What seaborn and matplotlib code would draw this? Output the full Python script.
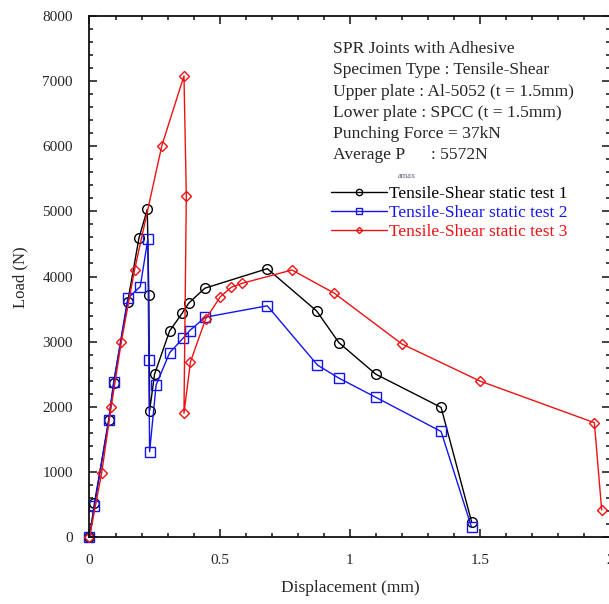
import matplotlib
matplotlib.use("Agg")
import matplotlib.pyplot as plt
import seaborn as sns
import pandas as pd
from matplotlib.lines import Line2D
from matplotlib.ticker import MultipleLocator

# ---- data ----
t1_x = [0, 0.019, 0.074, 0.093, 0.147, 0.190, 0.222, 0.228, 0.231, 0.250, 0.308,
        0.356, 0.381, 0.443, 0.683, 0.873, 0.958, 1.100, 1.351, 1.468]
t1_y = [0, 518, 1800, 2370, 3615, 4590, 5030, 3720, 1940, 2500, 3165,
        3435, 3590, 3820, 4120, 3470, 2985, 2500, 1990, 235]

t2_x = [0, 0.019, 0.074, 0.093, 0.147, 0.195, 0.224, 0.228, 0.231, 0.256, 0.308,
        0.359, 0.385, 0.445, 0.683, 0.876, 0.958, 1.100, 1.351, 1.468]
t2_y = [0, 476, 1800, 2375, 3665, 3845, 4570, 2720, 1310, 2335, 2830,
        3050, 3170, 3375, 3550, 2640, 2440, 2145, 1620, 150]

t3_x = [0, 0.047, 0.083, 0.122, 0.173, 0.278, 0.363, 0.372, 0.363, 0.388, 0.446,
        0.503, 0.545, 0.586, 0.778, 0.940, 1.200, 1.500, 1.940, 1.968]
t3_y = [0, 990, 1990, 2990, 4100, 6010, 7080, 5240, 1900, 2690, 3345,
        3690, 3835, 3895, 4100, 3745, 2965, 2395, 1755, 415]

series_names = ["Tensile-Shear static test 1", "Tensile-Shear static test 2",
                "Tensile-Shear static test 3"]
x_ticks = [0, 0.5, 1, 1.5, 2]
x_tick_labels = ["0", "0.5", "1", "1.5", "2"]
y_ticks = [0, 1000, 2000, 3000, 4000, 5000, 6000, 7000, 8000]

info_lines = ["SPR Joints with Adhesive",
              "Specimen Type : Tensile-Shear",
              "Upper plate : Al-5052 (t = 1.5mm)",
              "Lower plate : SPCC (t = 1.5mm)",
              "Punching Force = 37kN"]

# ---- style ----
sns.set_style("ticks")
plt.rcParams["font.family"] = ["Liberation Serif", "DejaVu Serif"]

W, H = 609, 604
fig = plt.figure(figsize=(W / 100, H / 100), dpi=100)
ax = fig.add_axes([89.5 / W, 1 - 537 / H, (610 - 89.5) / W, (537 - 16) / H])

colors = ["#000000", "#1414f0", "#ee1111"]
markers = ["o", "s", "D"]
msizes = [7, 6.5, 4.8]

data = [(t1_x, t1_y), (t2_x, t2_y), (t3_x, t3_y)]
for (xs, ys), name, c, m, ms in zip(data, series_names, colors, markers, msizes):
    df = pd.DataFrame({"disp": xs, "load": ys})
    sns.lineplot(data=df, x="disp", y="load", ax=ax, sort=False, estimator=None,
                 color=c, marker=m, markersize=ms, markerfacecolor="none",
                 markeredgecolor=c, markeredgewidth=1.0, linewidth=1.0,
                 clip_on=False, legend=False)

ax.set_xlim(0, 2)
ax.set_ylim(0, 8000)
ax.set_xticks(x_ticks)
ax.set_xticklabels(x_tick_labels)
ax.set_yticks(y_ticks)
ax.xaxis.set_minor_locator(MultipleLocator(0.1))
ax.yaxis.set_minor_locator(MultipleLocator(200))
ax.tick_params(which="both", direction="in", top=True, right=True,
               labelsize=11, width=1.1, color="#111111")
ax.tick_params(which="major", length=5.5, pad=12)
ax.tick_params(which="minor", length=3)
for sp in ax.spines.values():
    sp.set_linewidth(1.3)
    sp.set_color("#111111")

ax.set_xlabel("Displacement (mm)", fontsize=12.5)
ax.set_ylabel("Load (N)", fontsize=12)
ax.xaxis.set_label_coords((350 - 89.5) / (610 - 89.5), -(580 - 537) / (537 - 16))
ax.yaxis.set_label_coords(-(89.5 - 28) / (610 - 89.5), (537 - 277) / (537 - 16))

# ---- info text block ----
fs = 12.6
ys_px = [49, 70.5, 92, 113, 134]
for txt, yp in zip(info_lines, ys_px):
    fig.text(333 / W, 1 - yp / H, txt, fontsize=fs, va="center", ha="left")
fig.text(333 / W, 1 - 155 / H, "Average P", fontsize=fs, va="center", ha="left")
fig.text(398 / W, 1 - 176 / H, "amax", fontsize=6, va="center", ha="left",
         color="#6a6078")
fig.text(431 / W, 1 - 155 / H, ": 5572N", fontsize=fs, va="center", ha="left")

# ---- legend ----
handles = [Line2D([], [], color=c, marker=m, markersize=ms * 0.65,
                  markerfacecolor="none", markeredgecolor=c, linewidth=1.0)
           for c, m, ms in zip(colors, markers, msizes)]
leg = ax.legend(handles, series_names, loc="upper left",
                bbox_to_anchor=(331 / W, 1 - 186 / H), bbox_transform=fig.transFigure,
                frameon=False, fontsize=12.5, handlelength=3.2, handletextpad=0.15,
                labelspacing=0.15, borderpad=0, borderaxespad=0)
for t, c in zip(leg.get_texts(), colors):
    t.set_color(c)

fig.savefig("out.png", dpi=100)
